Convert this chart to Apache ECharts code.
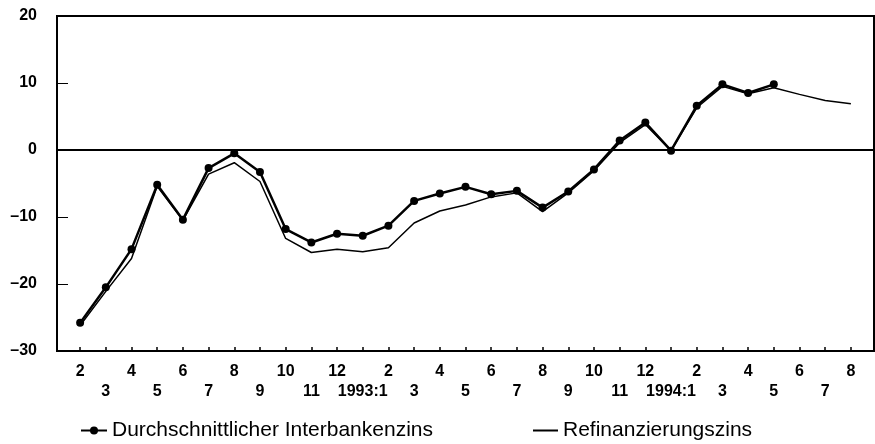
<!DOCTYPE html>
<html>
<head>
<meta charset="utf-8">
<script src="https://cdn.jsdelivr.net/npm/echarts@6/dist/echarts.min.js"></script>
<style>
  html, body { margin: 0; padding: 0; background: #fff; }
  #chart { width: 875px; height: 444px; }
</style>
</head>
<body>
<div id="chart"></div>
<script>
// Monate 1992:2 bis 1994:8
const monthLabels = ['2', '3', '4', '5', '6', '7', '8', '9', '10', '11', '12', '1993:1',
  '2', '3', '4', '5', '6', '7', '8', '9', '10', '11', '12', '1994:1',
  '2', '3', '4', '5', '6', '7', '8'];

const interbank = [-25.8, -20.5, -14.8, -5.2, -10.4, -2.7, -0.5, -3.3, -11.8, -13.8, -12.5, -12.8,
  -11.3, -7.6, -6.5, -5.5, -6.6, -6.1, -8.6, -6.2, -2.9, 1.4, 4.1, -0.1,
  6.6, 9.8, 8.5, 9.8];

const refinanzierung = [-26.2, -21.1, -16.2, -5.4, -10.5, -3.6, -1.9, -4.7, -13.2, -15.3, -14.8, -15.2,
  -14.6, -10.9, -9.1, -8.2, -7.0, -6.4, -9.2, -6.4, -3.1, 1.1, 3.8, -0.1,
  6.3, 9.5, 8.4, 9.3, 8.3, 7.4, 6.9];

const nameInterbank = 'Durchschnittlicher Interbankenzins';
const nameRefi = 'Refinanzierungszins';

const idx = monthLabels.map((_, i) => i);
const toPairs = (arr) => arr.map((v, i) => [i, v]);

const chart = echarts.init(document.getElementById('chart'));

const option = {
  backgroundColor: '#fff',
  animation: false,
  textStyle: { fontFamily: 'Liberation Sans, Arial, sans-serif', color: '#000' },
  grid: {
    left: 57, top: 16, right: 1, bottom: 93,
    show: true, borderColor: '#000', borderWidth: 2,
    backgroundColor: 'transparent'
  },
  legend: [
    {
      data: [nameInterbank],
      left: 75, top: 415,
      itemWidth: 26, itemHeight: 10,
      textStyle: { fontSize: 21, color: '#000' }
    },
    {
      data: [{ name: nameRefi, icon: 'rect' }],
      left: 528, top: 415,
      itemWidth: 25, itemHeight: 2,
      textStyle: { fontSize: 21, color: '#000' }
    }
  ],
  xAxis: {
    type: 'value',
    min: -0.9,
    max: 30.9,
    axisLine: { onZero: false, lineStyle: { color: '#000', width: 2 } },
    axisTick: {
      inside: true, length: 4,
      customValues: idx,
      lineStyle: { color: '#000', width: 1.5 }
    },
    axisLabel: {
      customValues: idx,
      margin: 11,
      lineHeight: 20,
      fontSize: 16,
      fontWeight: 'bold',
      color: '#000',
      formatter: (v) => {
        const i = Math.round(v);
        return i % 2 === 0 ? monthLabels[i] : '\n' + monthLabels[i];
      }
    },
    splitLine: { show: false }
  },
  yAxis: {
    type: 'value',
    min: -30,
    max: 20,
    interval: 10,
    axisLine: { show: true, onZero: false, lineStyle: { color: '#000', width: 2 } },
    axisTick: { show: true, inside: true, length: 11, lineStyle: { color: '#000', width: 1 } },
    axisLabel: {
      margin: 20,
      fontSize: 16,
      fontWeight: 'bold',
      color: '#000',
      formatter: (v) => (v < 0 ? '–' + Math.abs(v) : String(v))
    },
    splitLine: { show: false }
  },
  series: [
    {
      name: nameRefi,
      type: 'line',
      data: toPairs(refinanzierung),
      symbol: 'none',
      lineStyle: { color: '#000', width: 1.5 },
      itemStyle: { color: '#000' },
      z: 2,
      markLine: {
        silent: true,
        symbol: 'none',
        label: { show: false },
        lineStyle: { color: '#000', width: 2, type: 'solid' },
        data: [{ yAxis: 0 }]
      }
    },
    {
      name: nameInterbank,
      type: 'line',
      data: toPairs(interbank),
      symbol: 'circle',
      symbolSize: 8,
      lineStyle: { color: '#000', width: 2.5 },
      itemStyle: { color: '#000' },
      z: 3
    }
  ]
};

chart.setOption(option);
</script>
</body>
</html>
